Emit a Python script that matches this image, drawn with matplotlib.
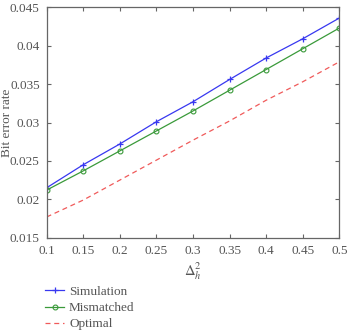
import matplotlib
matplotlib.use("Agg")
import matplotlib.pyplot as plt

delta_h2 = [0.1, 0.15, 0.2, 0.25, 0.3, 0.35, 0.4, 0.45, 0.5]
simulation = [0.0215, 0.0245, 0.0272, 0.0301, 0.0327, 0.0356, 0.0384, 0.0409, 0.0436]
mismatched = [0.0212, 0.0237, 0.0263, 0.0289, 0.0315, 0.0342, 0.0369, 0.0396, 0.0423]
optimal = [0.0177, 0.0199, 0.0225, 0.0251, 0.0277, 0.0302, 0.0329, 0.0353, 0.0379]

x_ticks = [0.1, 0.15, 0.2, 0.25, 0.3, 0.35, 0.4, 0.45, 0.5]
x_tick_labels = ["0.1", "0.15", "0.2", "0.25", "0.3", "0.35", "0.4", "0.45", "0.5"]
y_ticks = [0.015, 0.02, 0.025, 0.03, 0.035, 0.04, 0.045]
y_tick_labels = ["0.015", "0.02", "0.025", "0.03", "0.035", "0.04", "0.045"]

plt.rcParams["font.family"] = ["Liberation Serif", "DejaVu Serif"]
plt.rcParams["mathtext.fontset"] = "stix"
text_col = "#555555"
axis_col = "#666666"

fig = plt.figure(figsize=(3.48, 3.32), dpi=100)
ax = fig.add_axes([0.134, 0.284, 0.841, 0.694])

ax.plot(delta_h2, simulation, color="#3838f0", lw=0.9, marker="+", ms=4,
        mew=0.9, label="Simulation")
ax.plot(delta_h2, mismatched, color="#3a9a3a", lw=0.9, marker="o", ms=3.5,
        mfc="none", mew=0.8, label="Mismatched")
ax.plot(delta_h2, optimal, color="#f05a5a", lw=0.9, ls=(0, (4, 3)),
        label="Optimal")

ax.set_xlim(0.1, 0.5)
ax.set_ylim(0.015, 0.045)
ax.set_xticks(x_ticks)
ax.set_xticklabels(x_tick_labels)
ax.set_yticks(y_ticks)
ax.set_yticklabels(y_tick_labels)
ax.tick_params(direction="in", top=True, right=True, length=3, width=0.8,
               colors=axis_col, labelcolor=text_col, labelsize=9.5, pad=5)
for sp in ax.spines.values():
    sp.set_color(axis_col)
    sp.set_linewidth(0.9)

ax.set_xlabel(r"$\Delta_h^2$", color=text_col, fontsize=10.5, labelpad=3)
ax.set_ylabel("Bit error rate", color=text_col, fontsize=9.5)
ax.yaxis.set_label_coords(-0.115, 0.5)

handles, labels = ax.get_legend_handles_labels()
leg = fig.legend(handles, labels, loc="upper left",
                 bbox_to_anchor=(0.115, 0.155), frameon=False,
                 fontsize=9.5, handlelength=1.4, handletextpad=0.4,
                 labelspacing=0.3, borderaxespad=0)
for t in leg.get_texts():
    t.set_color(text_col)

fig.savefig("out.png", dpi=100)
